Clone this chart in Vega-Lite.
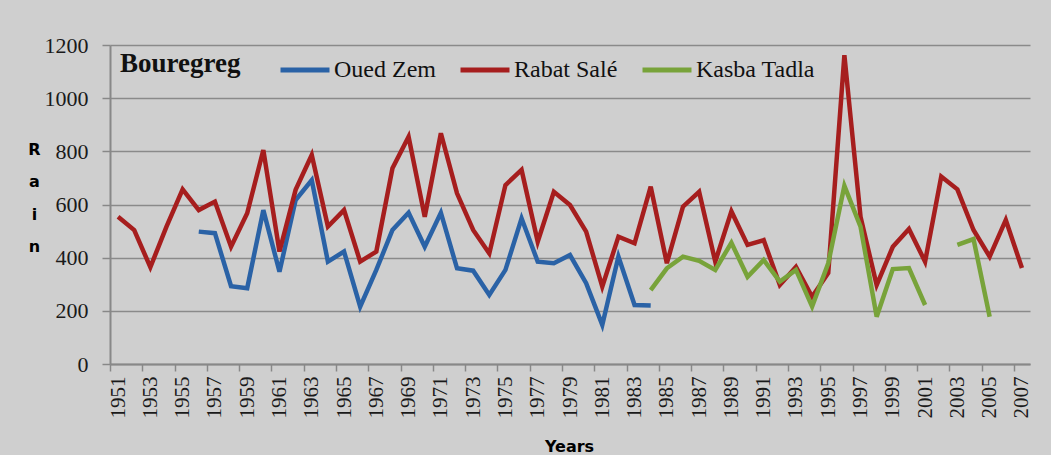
{
  "$schema": "https://vega.github.io/schema/vega-lite/v6.json",
  "width": 920,
  "height": 319,
  "autosize": {"type": "none"},
  "padding": {"left": 110, "top": 45, "right": 21, "bottom": 91},
  "background": "#cfcfcf",
  "config": {"view": {"stroke": null}},
  "title": {
    "text": "Bouregreg",
    "anchor": "start",
    "frame": "group",
    "orient": "top",
    "offset": 0,
    "baseline": "alphabetic",
    "dx": 10,
    "dy": 65,
    "font": "Liberation Serif",
    "fontSize": 27,
    "fontWeight": "bold",
    "color": "#111111"
  },
  "data": {
    "values": [
      {"year": 1956, "station": "Oued Zem", "rain": 498},
      {"year": 1957, "station": "Oued Zem", "rain": 492},
      {"year": 1958, "station": "Oued Zem", "rain": 293},
      {"year": 1959, "station": "Oued Zem", "rain": 285},
      {"year": 1960, "station": "Oued Zem", "rain": 579},
      {"year": 1961, "station": "Oued Zem", "rain": 347},
      {"year": 1962, "station": "Oued Zem", "rain": 617},
      {"year": 1963, "station": "Oued Zem", "rain": 692},
      {"year": 1964, "station": "Oued Zem", "rain": 385},
      {"year": 1965, "station": "Oued Zem", "rain": 423},
      {"year": 1966, "station": "Oued Zem", "rain": 216},
      {"year": 1967, "station": "Oued Zem", "rain": 354},
      {"year": 1968, "station": "Oued Zem", "rain": 504},
      {"year": 1969, "station": "Oued Zem", "rain": 569},
      {"year": 1970, "station": "Oued Zem", "rain": 441},
      {"year": 1971, "station": "Oued Zem", "rain": 569},
      {"year": 1972, "station": "Oued Zem", "rain": 360},
      {"year": 1973, "station": "Oued Zem", "rain": 351},
      {"year": 1974, "station": "Oued Zem", "rain": 260},
      {"year": 1975, "station": "Oued Zem", "rain": 354},
      {"year": 1976, "station": "Oued Zem", "rain": 548},
      {"year": 1977, "station": "Oued Zem", "rain": 385},
      {"year": 1978, "station": "Oued Zem", "rain": 379},
      {"year": 1979, "station": "Oued Zem", "rain": 410},
      {"year": 1980, "station": "Oued Zem", "rain": 304},
      {"year": 1981, "station": "Oued Zem", "rain": 147},
      {"year": 1982, "station": "Oued Zem", "rain": 404},
      {"year": 1983, "station": "Oued Zem", "rain": 222},
      {"year": 1984, "station": "Oued Zem", "rain": 220},
      {"year": 1951, "station": "Rabat Salé", "rain": 554},
      {"year": 1952, "station": "Rabat Salé", "rain": 504},
      {"year": 1953, "station": "Rabat Salé", "rain": 364},
      {"year": 1954, "station": "Rabat Salé", "rain": 517},
      {"year": 1955, "station": "Rabat Salé", "rain": 657},
      {"year": 1956, "station": "Rabat Salé", "rain": 579},
      {"year": 1957, "station": "Rabat Salé", "rain": 611},
      {"year": 1958, "station": "Rabat Salé", "rain": 441},
      {"year": 1959, "station": "Rabat Salé", "rain": 567},
      {"year": 1960, "station": "Rabat Salé", "rain": 805},
      {"year": 1961, "station": "Rabat Salé", "rain": 423},
      {"year": 1962, "station": "Rabat Salé", "rain": 655},
      {"year": 1963, "station": "Rabat Salé", "rain": 786},
      {"year": 1964, "station": "Rabat Salé", "rain": 517},
      {"year": 1965, "station": "Rabat Salé", "rain": 579},
      {"year": 1966, "station": "Rabat Salé", "rain": 385},
      {"year": 1967, "station": "Rabat Salé", "rain": 423},
      {"year": 1968, "station": "Rabat Salé", "rain": 736},
      {"year": 1969, "station": "Rabat Salé", "rain": 855},
      {"year": 1970, "station": "Rabat Salé", "rain": 554},
      {"year": 1971, "station": "Rabat Salé", "rain": 868},
      {"year": 1972, "station": "Rabat Salé", "rain": 642},
      {"year": 1973, "station": "Rabat Salé", "rain": 504},
      {"year": 1974, "station": "Rabat Salé", "rain": 416},
      {"year": 1975, "station": "Rabat Salé", "rain": 673},
      {"year": 1976, "station": "Rabat Salé", "rain": 730},
      {"year": 1977, "station": "Rabat Salé", "rain": 460},
      {"year": 1978, "station": "Rabat Salé", "rain": 648},
      {"year": 1979, "station": "Rabat Salé", "rain": 598},
      {"year": 1980, "station": "Rabat Salé", "rain": 498},
      {"year": 1981, "station": "Rabat Salé", "rain": 291},
      {"year": 1982, "station": "Rabat Salé", "rain": 479},
      {"year": 1983, "station": "Rabat Salé", "rain": 454},
      {"year": 1984, "station": "Rabat Salé", "rain": 667},
      {"year": 1985, "station": "Rabat Salé", "rain": 379},
      {"year": 1986, "station": "Rabat Salé", "rain": 592},
      {"year": 1987, "station": "Rabat Salé", "rain": 648},
      {"year": 1988, "station": "Rabat Salé", "rain": 385},
      {"year": 1989, "station": "Rabat Salé", "rain": 574},
      {"year": 1990, "station": "Rabat Salé", "rain": 448},
      {"year": 1991, "station": "Rabat Salé", "rain": 466},
      {"year": 1992, "station": "Rabat Salé", "rain": 297},
      {"year": 1993, "station": "Rabat Salé", "rain": 365},
      {"year": 1994, "station": "Rabat Salé", "rain": 253},
      {"year": 1995, "station": "Rabat Salé", "rain": 342},
      {"year": 1996, "station": "Rabat Salé", "rain": 1162},
      {"year": 1997, "station": "Rabat Salé", "rain": 554},
      {"year": 1998, "station": "Rabat Salé", "rain": 297},
      {"year": 1999, "station": "Rabat Salé", "rain": 441},
      {"year": 2000, "station": "Rabat Salé", "rain": 508},
      {"year": 2001, "station": "Rabat Salé", "rain": 385},
      {"year": 2002, "station": "Rabat Salé", "rain": 705},
      {"year": 2003, "station": "Rabat Salé", "rain": 657},
      {"year": 2004, "station": "Rabat Salé", "rain": 504},
      {"year": 2005, "station": "Rabat Salé", "rain": 404},
      {"year": 2006, "station": "Rabat Salé", "rain": 542},
      {"year": 2007, "station": "Rabat Salé", "rain": 361},
      {"year": 1984, "station": "Kasba Tadla", "rain": 278},
      {"year": 1985, "station": "Kasba Tadla", "rain": 360},
      {"year": 1986, "station": "Kasba Tadla", "rain": 404},
      {"year": 1987, "station": "Kasba Tadla", "rain": 388},
      {"year": 1988, "station": "Kasba Tadla", "rain": 354},
      {"year": 1989, "station": "Kasba Tadla", "rain": 456},
      {"year": 1990, "station": "Kasba Tadla", "rain": 328},
      {"year": 1991, "station": "Kasba Tadla", "rain": 391},
      {"year": 1992, "station": "Kasba Tadla", "rain": 310},
      {"year": 1993, "station": "Kasba Tadla", "rain": 354},
      {"year": 1994, "station": "Kasba Tadla", "rain": 216},
      {"year": 1995, "station": "Kasba Tadla", "rain": 379},
      {"year": 1996, "station": "Kasba Tadla", "rain": 670},
      {"year": 1997, "station": "Kasba Tadla", "rain": 517},
      {"year": 1998, "station": "Kasba Tadla", "rain": 178},
      {"year": 1999, "station": "Kasba Tadla", "rain": 357},
      {"year": 2000, "station": "Kasba Tadla", "rain": 361},
      {"year": 2001, "station": "Kasba Tadla", "rain": 222},
      {"year": 2002, "station": "Kasba Tadla", "rain": null},
      {"year": 2003, "station": "Kasba Tadla", "rain": 448},
      {"year": 2004, "station": "Kasba Tadla", "rain": 470},
      {"year": 2005, "station": "Kasba Tadla", "rain": 178}
    ]
  },
  "mark": {"type": "line", "strokeWidth": 4.5, "invalid": "break-paths-show-domains"},
  "encoding": {
    "x": {
      "field": "year",
      "type": "quantitative",
      "scale": {"domain": [1950.5, 2007.5], "nice": false, "zero": false},
      "axis": {
        "values": [1951, 1953, 1955, 1957, 1959, 1961, 1963, 1965, 1967, 1969, 1971, 1973, 1975, 1977, 1979, 1981, 1983, 1985, 1987, 1989, 1991, 1993, 1995, 1997, 1999, 2001, 2003, 2005, 2007],
        "format": "d",
        "labelAngle": -90,
        "labelFont": "Liberation Serif",
        "labelFontSize": 21,
        "labelColor": "#1a1a1a",
        "labelPadding": 5,
        "tickSize": 7,
        "tickOffset": -8,
        "labelOffset": 8,
        "tickColor": "#888888",
        "tickWidth": 1.5,
        "grid": false,
        "domainColor": "#888888",
        "domainWidth": 2,
        "title": "Years",
        "titleFont": "DejaVu Sans",
        "titleFontWeight": "bold",
        "titleFontSize": 16,
        "titleColor": "#000000",
        "titleX": 459,
        "titleY": 74,
        "titleBaseline": "top",
        "titleAlign": "center"
      }
    },
    "y": {
      "field": "rain",
      "type": "quantitative",
      "scale": {"domain": [0, 1200], "nice": false},
      "axis": {
        "values": [0, 200, 400, 600, 800, 1000, 1200],
        "format": "d",
        "labelFont": "Liberation Serif",
        "labelFontSize": 22,
        "labelColor": "#1a1a1a",
        "labelPadding": 14,
        "tickSize": 8,
        "tickColor": "#888888",
        "tickWidth": 1.5,
        "grid": true,
        "gridColor": "#8a8a8a",
        "gridWidth": 1.5,
        "domainColor": "#888888",
        "domainWidth": 2,
        "title": ["R", "a", "i", "n"],
        "titleFont": "DejaVu Sans",
        "titleFontWeight": "bold",
        "titleFontSize": 16,
        "titleColor": "#000000",
        "titleAngle": 0,
        "titleX": -76,
        "titleY": 96,
        "titleBaseline": "top",
        "titleAlign": "center",
        "titleLineHeight": 32.5
      }
    },
    "color": {
      "field": "station",
      "type": "nominal",
      "sort": ["Oued Zem", "Rabat Salé", "Kasba Tadla"],
      "scale": {"domain": ["Oued Zem", "Rabat Salé", "Kasba Tadla"], "range": ["#2a62a6", "#a61e1e", "#78a33a"]},
      "legend": {
        "orient": "none",
        "legendX": 168,
        "legendY": -2,
        "direction": "horizontal",
        "columns": 3,
        "title": null,
        "symbolType": "stroke",
        "symbolSize": 2400,
        "symbolStrokeWidth": 5,
        "labelFont": "Liberation Serif",
        "labelFontSize": 24,
        "labelColor": "#111111",
        "labelOffset": 2,
        "columnPadding": 14
      }
    }
  }
}
